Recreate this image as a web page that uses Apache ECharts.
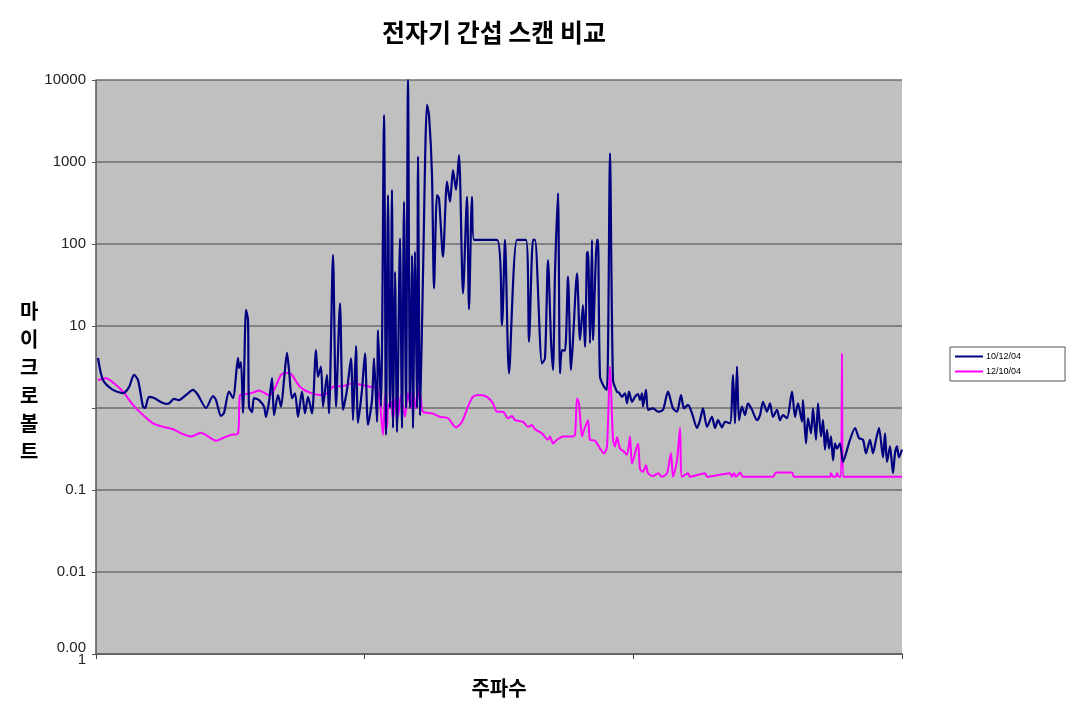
<!DOCTYPE html>
<html>
<head>
<meta charset="utf-8">
<script src="https://cdn.jsdelivr.net/npm/echarts@6/dist/echarts.min.js"></script>
<style>html,body{margin:0;padding:0;background:#fff}#c{width:1074px;height:719px}</style>
</head>
<body>
<div id="c"></div>
<script>
// Frequency position (arbitrary units, 0..806 across the span) and level in microvolts
var scan101204 = [
[2,4.07],[7,2.19],[17,1.66],[27,1.52],[33,1.80],[38,2.53],[42,2.19],[47,1.04],[49,1.0],[53,1.37],[58,1.32],[67,1.15],[72,1.12],[78,1.29],[83,1.25],[90,1.44],[97,1.66],[102,1.44],[110,1.0],[117,1.40],[120,1.25],[125,0.80],[128,0.87],[133,1.58],[137,1.32],[142,4.07],[143,3.07],[145,3.64],[147,0.87],[150,15.7],[152,11.8],[153,1.04],[156,0.89],[158,1.32],[163,1.25],[168,1.04],[170,0.78],[173,1.19],[176,2.32],[178,0.82],[182,1.44],[185,1.04],[188,2.19],[191,4.69],[193,2.91],[196,1.32],
[199,1.51],[202,0.78],[206,1.58],[209,0.86],[212,1.37],[216,0.86],[220,5.1],[222,2.41],[225,3.19],[227,1.04],[231,2.53],[233,0.86],[237,73.4],[240,1.04],[244,18.9],[247,0.95],[251,1.66],[255,4.04],[257,0.71],[260,5.7],[262,0.66],[266,1.66],[269,4.65],[272,0.62],[276,1.25],[278,4.04],[281,0.68],[282,8.9],[285,1.04],
[288,3740],[290,0.47],[292,396],[294,1.0],[296,456],[297,0.57],[299,45.9],[301,0.51],[304,117],[306,0.57],[308,328],[310,1.0],[312,10000],[314,1.0],[316,73],[317,0.57],[319,80.5],[321,1.0],[322,1160],[324,0.82],[327,41.9],[331,4960],[333,3740],[336,694],[338,28.8],[341,396],[343,361],[347,70],[351,575],[354,328],[357,798],[360,456],[363,1217],[367,25],[371,377],[373,16],[376,377],[378,112],[401,112],
[406,10.3],[409,112],[413,2.65],[421,112],[430,112],[433,6.44],[437,112],[439,112],[446,3.51],[449,4.04],[452,63.8],[455,6.75],[457,2.91],[459,43.9],[462,415],[464,2.65],[466,5.1],[469,5.0],[472,39.9],[475,2.91],[477,6.75],[481,43.9],[484,6.75],[487,18.0],[489,5.59],[491,77],[492,80],[494,6.15],[496,112],[497,6.75],[501,112],[502,112],[504,2.41],[508,1.82],[511,1.66],[514,1277],[517,2.19],[521,1.58],[523,1.54],[526,1.37],[529,1.51],[531,1.14],[533,1.58],[536,1.19],[539,1.37],[542,1.48],[544,1.25],[546,1.51],[547,1.04],[550,1.66],[552,0.95],[557,0.99],[562,0.90],[567,0.95],[572,1.58],[577,0.99],[581,0.90],[585,1.44],[588,0.99],[592,1.09],[596,0.86],[601,0.57],[604,0.71],[607,0.99],[611,0.59],[616,0.78],[619,0.57],[622,0.71],[626,0.58],[629,0.68],[634,0.65],[637,2.53],[639,0.65],[641,3.19],[643,0.71],[646,1.04],[649,0.82],[652,1.14],[656,0.95],[661,0.71],[664,0.82],[667,1.19],[671,0.90],[674,1.14],[677,0.78],[681,0.95],[684,0.71],[687,0.82],[691,0.75],[696,1.58],[699,0.78],[702,1.14],[706,0.68],[707,1.25],[710,0.37],[712,0.75],[715,0.49],[717,0.99],[720,0.41],[722,1.14],[725,0.45],[727,0.71],[729,0.31],[731,0.54],[733,0.32],[735,0.45],[737,0.23],[739,0.37],[741,0.32],[744,0.37],[747,0.22],[750,0.28],[754,0.41],[759,0.57],[763,0.43],[767,0.41],[770,0.28],[774,0.41],[777,0.28],[780,0.41],[783,0.57],[787,0.25],[789,0.49],[791,0.22],[794,0.34],[797,0.16],[799,0.28],[801,0.34],[803,0.25],[806,0.31]
];
var scan121004 = [
[2,2.19],[10,2.30],[18,2.0],[27,1.58],[37,1.09],[47,0.82],[57,0.65],[67,0.59],[77,0.55],[87,0.48],[95,0.45],[105,0.50],[112,0.45],[120,0.40],[127,0.43],[135,0.47],[142,0.49],[144,1.44],[150,1.48],[157,1.54],[163,1.63],[168,1.54],[173,1.44],[178,1.66],[185,2.53],[190,2.69],[195,2.60],[204,1.82],[214,1.54],[224,1.44],[231,1.51],[237,1.82],[247,1.85],[257,2.0],[266,1.91],[274,1.82],[281,1.74],[284,1.14],[287,0.47],[289,1.44],[291,0.57],[292,1.04],[295,1.20],[297,0.71],[300,1.37],[302,0.78],[305,1.44],[309,0.78],[312,1.51],[315,0.99],[317,1.66],[320,0.99],[323,1.74],[325,1.25],[327,0.90],[336,0.86],[344,0.78],[352,0.75],[360,0.58],[366,0.68],[372,1.04],[377,1.37],[384,1.44],[391,1.37],[397,1.14],[401,0.90],[407,0.90],[412,0.75],[416,0.80],[419,0.71],[427,0.68],[432,0.59],[436,0.62],[439,0.55],[446,0.49],[452,0.41],[454,0.45],[457,0.37],[461,0.41],[467,0.45],[476,0.45],[479,0.47],[481,1.31],[483,1.14],[486,0.45],[488,0.54],[492,0.71],[494,0.41],[499,0.40],[504,0.32],[508,0.28],[511,0.34],[514,3.19],[517,0.41],[519,0.34],[521,0.44],[524,0.32],[527,0.30],[531,0.27],[534,0.45],[536,0.21],[542,0.37],[544,0.18],[547,0.167],[550,0.20],[552,0.16],[557,0.148],[562,0.16],[566,0.145],[571,0.16],[575,0.28],[577,0.145],[581,0.23],[584,0.57],[586,0.145],[592,0.16],[594,0.145],[609,0.16],[611,0.145],[634,0.16],[636,0.145],[638,0.16],[640,0.145],[644,0.163],[647,0.145],[677,0.145],[680,0.163],[696,0.163],[698,0.145],[734,0.145],[735,0.16],[737,0.145],[740,0.145],[741,0.16],[743,0.145],[745,0.145],[746,4.65],[747,0.145],[806,0.145]
];
var seriesNames = ['10/12/04', '12/10/04'];
var titleText = '전자기 간섭 스캔 비교';
var xName = '주파수';
var yName = '마이크로볼트';

var chart = echarts.init(document.getElementById('c'));
chart.setOption({
  animation: false,
  backgroundColor: '#ffffff',
  title: {
    text: titleText, left: 377, top: 15,
    textStyle: { fontFamily: 'Noto Sans CJK KR', fontSize: 25, fontWeight: 'bold', color: '#000' }
  },
  legend: {
    data: seriesNames, orient: 'vertical', left: 950, top: 347,
    itemWidth: 28, itemHeight: 2, itemGap: 6, icon: 'rect',
    padding: [5, 44, 5, 5],
    borderColor: '#555', borderWidth: 1, backgroundColor: '#fff',
    textStyle: { fontFamily: 'Liberation Sans', fontSize: 9, color: '#000', padding: [0, 0, 0, -2] }
  },
  grid: { left: 96, right: 172, top: 80, bottom: 65, show: true, backgroundColor: '#c0c0c0', borderWidth: 0 },
  xAxis: {
    type: 'value', min: 0, max: 806, interval: 268.667,
    name: xName, nameLocation: 'middle', nameGap: 24,
    nameTextStyle: { fontFamily: 'Noto Sans CJK KR', fontSize: 20, fontWeight: 'bold', color: '#000' },
    axisLine: { show: true, lineStyle: { color: '#666', width: 2 } },
    axisTick: { show: true, length: 5, lineStyle: { color: '#444', width: 1 } },
    axisLabel: { show: false },
    splitLine: { show: false }
  },
  yAxis: {
    type: 'log', logBase: 10, min: 0.001, max: 10000, splitNumber: 7,
    name: '\n' + yName.split('').join('\n'), nameLocation: 'middle', nameRotate: 0, nameGap: 56,
    nameTextStyle: { fontFamily: 'Noto Sans CJK KR', fontSize: 20, fontWeight: 'bold', color: '#000', lineHeight: 28 },
    axisLine: { show: true, lineStyle: { color: '#555', width: 1.5 } },
    axisTick: { show: true, length: 4, lineStyle: { color: '#555' } },
    axisLabel: {
      fontFamily: 'Liberation Sans', fontSize: 15, color: '#222', margin: 10, lineHeight: 12,
      formatter: function (v) {
        if (Math.abs(v - 1) < 1e-9) return '';
        if (Math.abs(v - 0.001) < 1e-9) return '0.00\n1';
        return String(+v.toPrecision(6));
      }
    },
    splitLine: { show: true, lineStyle: { color: '#6e6e6e', width: 1.5 } }
  },
  series: [
    { name: seriesNames[0], type: 'line', data: scan101204, showSymbol: false, smooth: 0.25, lineStyle: { color: '#000080', width: 2.2 }, itemStyle: { color: '#000080' }, z: 3 },
    { name: seriesNames[1], type: 'line', data: scan121004, showSymbol: false, smooth: 0.25, lineStyle: { color: '#ff00ff', width: 2 }, itemStyle: { color: '#ff00ff' }, z: 2 }
  ]
});
</script>
</body>
</html>
